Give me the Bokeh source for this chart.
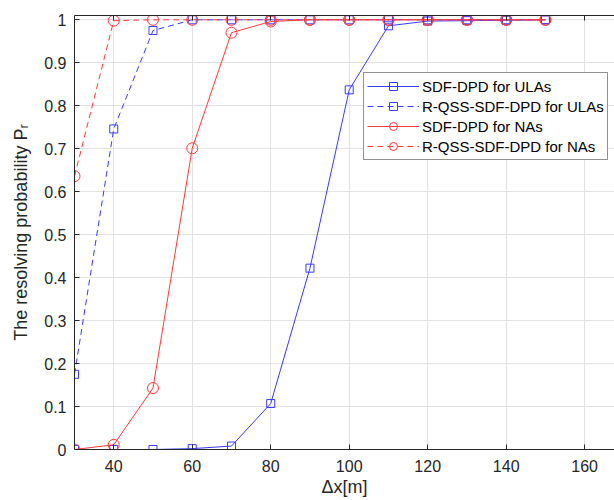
import math
from bokeh.plotting import figure
from bokeh.models import Range1d, FixedTicker, LinearAxis, CustomJSTickFormatter
from bokeh.embed import file_html
from bokeh.resources import INLINE

# ---- data ----
dx = [30, 40, 50, 60, 70, 80, 90, 100, 110, 120, 130, 140, 150]
ula_sdf = [0.0, 0.0, 0.0, 0.002, 0.008, 0.107, 0.422, 0.837, 0.986, 0.997, 0.998, 0.999, 1.0]
ula_rqss = [0.175, 0.746, 0.975, 1.0, 1.0, 1.0, 1.0, 1.0, 1.0, 1.0, 1.0, 1.0, 1.0]
na_sdf = [0.0, 0.011, 0.143, 0.701, 0.970, 0.996, 1.0, 1.0, 1.0, 1.0, 1.0, 1.0, 1.0]
na_rqss = [0.636, 0.998, 1.0, 1.0, 1.0, 1.0, 1.0, 1.0, 1.0, 1.0, 1.0, 1.0, 1.0]
xticks = [40, 60, 80, 100, 120, 140, 160]
yticks = [0, 0.1, 0.2, 0.3, 0.4, 0.5, 0.6, 0.7, 0.8, 0.9, 1.0]
labels = ["SDF-DPD for ULAs", "R-QSS-SDF-DPD for ULAs", "SDF-DPD for NAs", "R-QSS-SDF-DPD for NAs"]

FONT = "Liberation Sans"
AX = "#262626"
BLUE = "#3a3aff"
RED = "#ff3a3a"

p = figure(width=614, height=500, output_backend="svg", toolbar_location=None,
           x_range=Range1d(30, 167.6), y_range=Range1d(0, 1.01),
           min_border_left=74, min_border_right=0, min_border_top=15, min_border_bottom=51)
p.outline_line_color = None
p.background_fill_color = "white"
p.border_fill_color = "white"

for ax in (p.xaxis[0], p.yaxis[0]):
    ax.major_tick_in = 5
    ax.major_tick_out = 0
    ax.minor_tick_in = 0
    ax.minor_tick_out = 0
    ax.axis_line_color = AX
    ax.major_tick_line_color = AX
    ax.major_label_text_font = FONT
    ax.major_label_text_font_size = "16px"
    ax.major_label_text_color = AX
    ax.axis_label_text_font = FONT
    ax.axis_label_text_font_size = "18px"
    ax.axis_label_text_font_style = "normal"
    ax.axis_label_text_color = AX
p.xaxis.ticker = FixedTicker(ticks=xticks)
p.yaxis.ticker = FixedTicker(ticks=yticks)
p.xaxis.major_label_standoff = 10
p.yaxis.major_label_standoff = 8
p.yaxis.formatter = CustomJSTickFormatter(code="return (Math.round(tick*10)/10).toString();")

p.yaxis.axis_label = "The resolving probability Pᵣ"
p.yaxis.axis_label_standoff = 10
p.xaxis.axis_label = "Δx[m]"
p.xaxis.axis_label_standoff = 2

top = LinearAxis(ticker=FixedTicker(ticks=xticks),
                 formatter=CustomJSTickFormatter(code="return '';"),
                 major_label_text_font_size="1px",
                 major_tick_in=5, major_tick_out=0, minor_tick_in=0, minor_tick_out=0,
                 major_label_standoff=0, axis_line_color=AX, major_tick_line_color=AX)
p.add_layout(top, "above")

p.xgrid.ticker = FixedTicker(ticks=xticks)
p.ygrid.ticker = FixedTicker(ticks=yticks)
for g in (p.xgrid[0], p.ygrid[0]):
    g.grid_line_color = "#e2e2e2"
    g.grid_line_width = 1

series = [
    (ula_sdf, BLUE, "solid", "square", 8),
    (ula_rqss, BLUE, "6 4", "square", 8),
    (na_sdf, RED, "solid", "circle", 11),
    (na_rqss, RED, "6 4", "circle", 11),
]
for (ys, col, dash, mk, sz), lab in zip(series, labels):
    p.line(dx, ys, line_color=col, line_width=1, line_dash=dash, legend_label=lab)
    p.scatter(dx, ys, marker=mk, size=sz, fill_color=None, line_color=col, line_width=1, legend_label=lab)

lg = p.legend[0]
lg.location = (289, 289)
lg.label_text_font = FONT
lg.label_text_font_size = "15px"
lg.label_text_color = "black"
lg.border_line_color = AX
lg.border_line_width = 1
lg.padding = 3
lg.spacing = 0
lg.margin = 0
lg.glyph_width = 52
lg.glyph_height = 20
lg.label_height = 20
lg.label_standoff = 3
lg.background_fill_alpha = 1

open("out.html", "w").write(file_html(p, INLINE))
